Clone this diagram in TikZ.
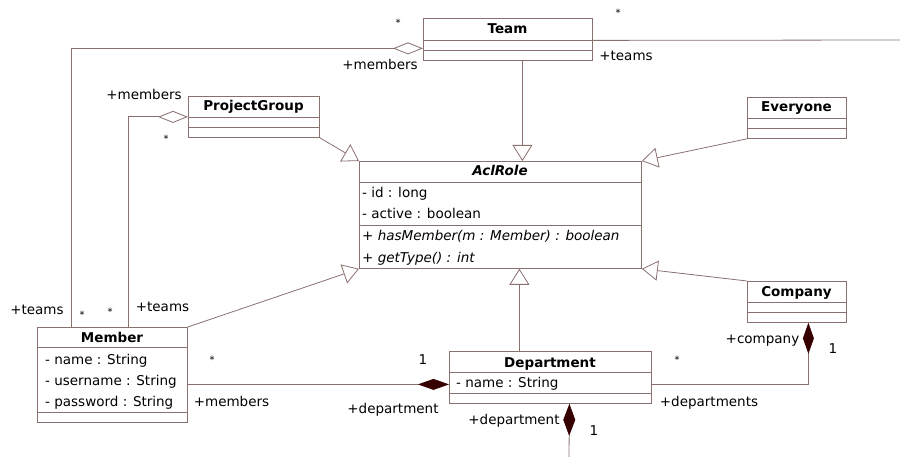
\documentclass[tikz,border=0pt]{standalone}
\usepackage{fontspec}
\setmainfont{DejaVu Sans}
\usetikzlibrary{arrows.meta}
\definecolor{linec}{RGB}{139,112,112}
\definecolor{diamc}{RGB}{55,0,0}
\begin{document}
\begin{tikzpicture}[x=1pt,y=-1pt,
  every node/.style={font=\fontsize{13.5}{16}\selectfont, inner sep=0pt},
  cls/.style={draw=linec, line width=0.8pt, rectangle, anchor=north west, fill=white},
  sepline/.style={draw=linec, line width=0.8pt},
  title/.style={font=\fontsize{13.5}{16}\selectfont\bfseries, anchor=base},
  member/.style={anchor=base west},
  oper/.style={anchor=base west, font=\fontsize{13.5}{16}\selectfont\itshape},
  lbl/.style={anchor=base},
  mult/.style={anchor=base, font=\fontsize{10}{12}\selectfont},
  conn/.style={draw=linec, line width=0.8pt},
  gen/.style={conn, -{Triangle[open, length=16pt, width=20pt, fill=white]}},
  agg/.style={conn, {Diamond[open, length=30pt, width=12pt, fill=white]}-},
  compend/.style={conn, -{Diamond[length=31pt, width=11pt, color=diamc]}},
  compstart/.style={conn, {Diamond[length=32pt, width=12pt, color=diamc]}-}
]
\useasboundingbox (0,0) rectangle (900,457);

% ---------- class boxes ----------
\node[cls, minimum width=169pt, minimum height=42pt] (team) at (423,18) {};
\draw[sepline] (423,40) -- (592,40);
\draw[sepline] (423,50) -- (592,50);
\node[title] (teamT) at (507.5,34) {Team};

\node[cls, minimum width=131pt, minimum height=41pt] (pg) at (188,96) {};
\draw[sepline] (188,117) -- (319,117);
\draw[sepline] (188,127) -- (319,127);
\node[title] (pgT) at (253.5,111) {ProjectGroup};

\node[cls, minimum width=99pt, minimum height=41pt] (every) at (747,97) {};
\draw[sepline] (747,118) -- (846,118);
\draw[sepline] (747,128) -- (846,128);
\node[title] (everyT) at (796.5,112) {Everyone};

\node[cls, minimum width=282pt, minimum height=107pt] (acl) at (359,161) {};
\draw[sepline] (359,182) -- (641,182);
\draw[sepline] (359,225) -- (641,225);
\node[title, font=\fontsize{13.5}{16}\selectfont\bfseries\itshape] (aclT) at (500,176) {AclRole};
\node[member] (aclA1) at (362,198) {- id : long};
\node[member] (aclA2) at (362,219) {- active : boolean};
\node[oper] (aclO1) at (362,241) {+ hasMember(m : Member) : boolean};
\node[oper] (aclO2) at (362,262) {+ getType() : int};

\node[cls, minimum width=99pt, minimum height=41pt] (company) at (747,281) {};
\draw[sepline] (747,302) -- (846,302);
\draw[sepline] (747,312) -- (846,312);
\node[title] (companyT) at (796.5,297) {Company};

\node[cls, minimum width=150pt, minimum height=95pt] (member) at (37,327) {};
\draw[sepline] (37,347) -- (187,347);
\draw[sepline] (37,412) -- (187,412);
\node[title] (memberT) at (112,342) {Member};
\node[member] (memA1) at (45,364) {- name : String};
\node[member] (memA2) at (45,385) {- username : String};
\node[member] (memA3) at (45,406) {- password : String};

\node[cls, minimum width=202pt, minimum height=52pt] (dept) at (449,351) {};
\draw[sepline] (449,372) -- (651,372);
\draw[sepline] (449,393) -- (651,393);
\node[title] (deptT) at (550,367) {Department};
\node[member] (deptA1) at (456,387) {- name : String};

% ---------- generalizations ----------
\draw[gen] ([xshift=14.5pt]team.south) -- ([xshift=14.5pt]team.south |- acl.north);
\draw[gen] (pg.south east) -- (acl.north west);
\draw[gen] (every.south west) -- (acl.north east);
\draw[gen] (member.north east) -- (acl.south west);
\draw[gen] (company.north west) -- (acl.south east);
\draw[gen] ([xshift=-31pt]dept.north) -- ([xshift=-31pt]dept.north |- acl.south);

% ---------- associations ----------
\coordinate (teamEnd) at (900,40);
\coordinate (deptEnd) at (569,457);
\draw[agg] ([yshift=-9pt]team.west) -| ([xshift=-41pt]member.north);
\draw[conn] ([yshift=-1pt]team.east) -- (teamEnd);
\draw[agg] (pg.west) -| ([xshift=16pt]member.north);
\draw[compend] ([yshift=-9.5pt]member.east) -- ([yshift=-7pt]dept.west);
\draw[compend] ([yshift=-7pt]dept.east) -| ([xshift=11.5pt]company.south);
\draw[compstart] ([xshift=19pt]dept.south) -- (deptEnd);

% ---------- role names and multiplicities ----------
\node[mult] (m1) at (398,27) {*};
\node[lbl] (r1) at (380,70) {+members};
\node[mult] (m2) at (618,17) {*};
\node[lbl] (r2) at (626,61) {+teams};
\node[lbl] (r3) at (144,100) {+members};
\node[mult] (m3) at (166,143) {*};
\node[lbl] (r4) at (37,314) {+teams};
\node[mult] (m4) at (82,319) {*};
\node[mult] (m5) at (110,315) {*};
\node[lbl] (r5) at (162.5,311) {+teams};
\node[mult] (m6) at (212,363) {*};
\node[lbl] (m7) at (423,364) {1};
\node[lbl] (r6) at (231.5,406) {+members};
\node[lbl] (r7) at (393,413) {+department};
\node[mult] (m8) at (677,363) {*};
\node[lbl] (r8) at (709,406) {+departments};
\node[lbl] (r9) at (762.5,343) {+company};
\node[lbl] (m9) at (833,353) {1};
\node[lbl] (r10) at (514,424) {+department};
\node[lbl] (m10) at (594,435) {1};
\end{tikzpicture}
\end{document}
